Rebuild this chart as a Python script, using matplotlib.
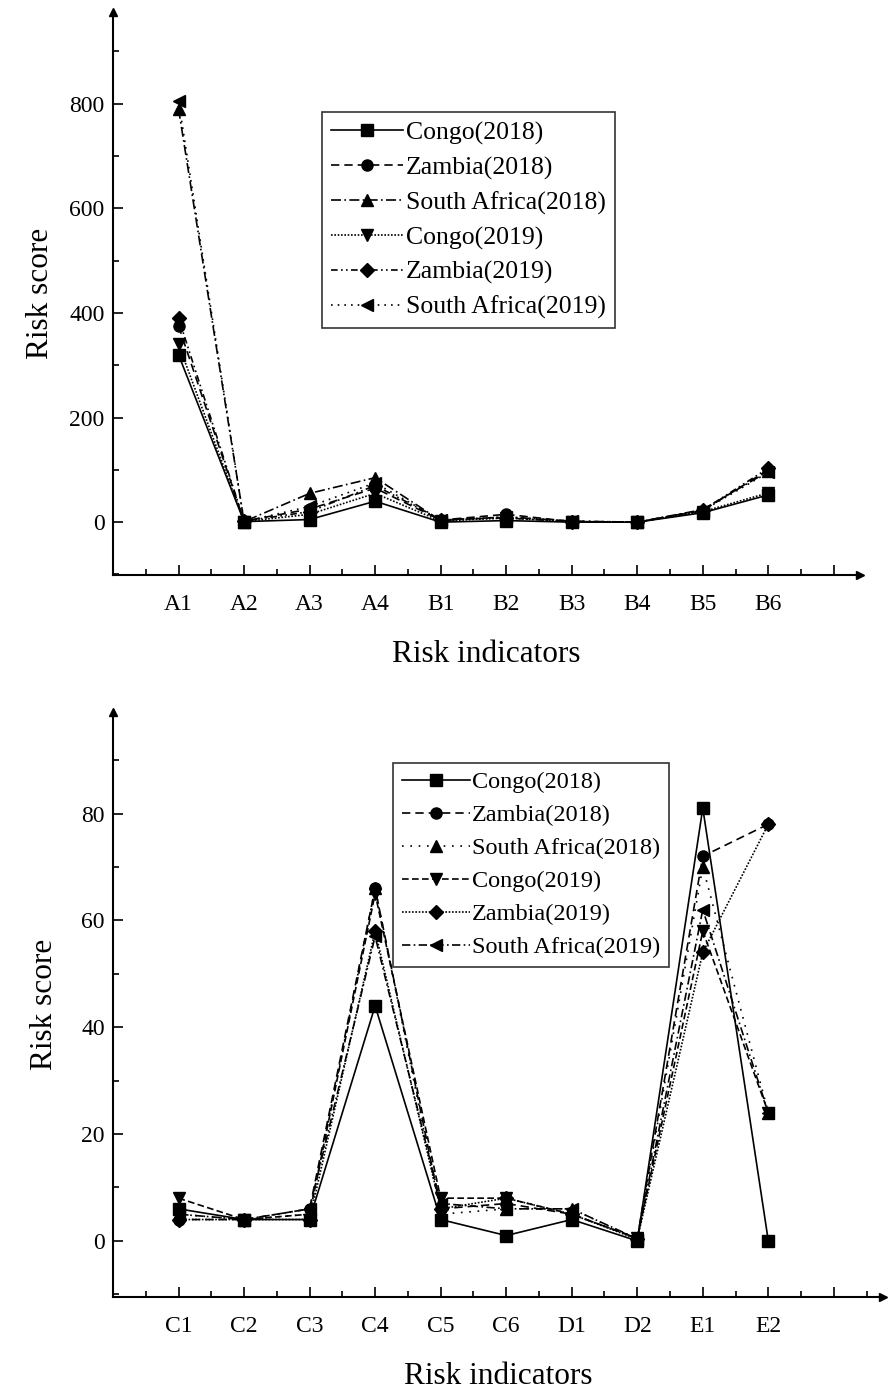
import numpy as np
import matplotlib
matplotlib.use("Agg")
import matplotlib.pyplot as plt
from matplotlib.ticker import MultipleLocator

plt.rcParams["font.family"] = ["Liberation Serif", "DejaVu Serif"]

# ---- data ----
series = ["Congo(2018)", "Zambia(2018)", "South Africa(2018)",
          "Congo(2019)", "Zambia(2019)", "South Africa(2019)"]

top_cats = ["A1", "A2", "A3", "A4", "B1", "B2", "B3", "B4", "B5", "B6"]
congo_2018_top = [320, 1, 5, 40, 0, 3, 0, 0, 18, 52]
zambia_2018_top = [375, 2, 25, 65, 4, 15, 1, 0, 22, 100]
safrica_2018_top = [790, 1, 55, 85, 3, 10, 2, 0, 24, 97]
congo_2019_top = [340, 1, 15, 55, 2, 8, 1, 0, 20, 56]
zambia_2019_top = [390, 2, 20, 70, 5, 8, 1, 0, 23, 103]
safrica_2019_top = [805, 1, 30, 75, 4, 10, 2, 0, 22, 95]

bot_cats = ["C1", "C2", "C3", "C4", "C5", "C6", "D1", "D2", "E1", "E2"]
congo_2018_bot = [6, 4, 4, 44, 4, 1, 4, 0, 81, 0]
zambia_2018_bot = [4, 4, 6, 66, 6, 7, 5, 0.5, 72, 78]
safrica_2018_bot = [5, 4, 5, 66, 5, 6, 6, 0.3, 70, 24]
congo_2019_bot = [8, 4, 5, 65, 8, 8, 5, 0.5, 58, 24]
zambia_2019_bot = [4, 4, 4, 58, 6, 8, 5, 0.3, 54, 78]
safrica_2019_bot = [5, 4, 6, 57, 7, 6, 6, 0.4, 62, 24]

markers = ["s", "o", "^", "v", "D", "<"]
top_styles = ["-", (0, (5, 3)), (0, (6, 2, 1, 2)), (0, (1, 1)),
              (0, (4, 2, 1, 2, 1, 2)), (0, (1, 3))]
bot_styles = ["-", (0, (5, 3)), (0, (1, 4)), (0, (4, 2)),
              (0, (1, 1)), (0, (5, 2, 1, 2))]


def draw(ax, cats, data, styles, ylim, minor, yticks, legend_pos, leg_fs,
         ylabelpad):
    x = np.arange(1, len(cats) + 1)
    for vals, name, m, ls in zip(data, series, markers, styles):
        ms = 7 if m == "D" else 8
        ax.plot(x, vals, color="black", linestyle=ls, linewidth=1.2,
                marker=m, markersize=ms, label=name)
    ax.set_xlim(0, ylim[2])
    ax.set_ylim(ylim[0], ylim[1])
    ax.set_xticks(list(x) + [11])
    ax.set_xticklabels(cats + [""])
    ax.xaxis.set_minor_locator(MultipleLocator(0.5))
    ax.set_yticks(yticks)
    ax.yaxis.set_minor_locator(MultipleLocator(minor))
    ax.tick_params(which="both", direction="in", labelsize=17, width=1.2)
    ax.tick_params(which="major", length=7)
    ax.tick_params(which="minor", length=4)
    ax.tick_params(axis="x", pad=14)
    ax.tick_params(axis="y", pad=6)
    for s in ["top", "right"]:
        ax.spines[s].set_visible(False)
    for s in ["left", "bottom"]:
        ax.spines[s].set_linewidth(1.5)
    # arrow heads at the ends of the axes
    ax.plot(1, 0, ">k", markersize=6, transform=ax.transAxes, clip_on=False)
    ax.plot(0, 1, "^k", markersize=6, transform=ax.transAxes, clip_on=False)
    ax.set_xlabel("Risk indicators", fontsize=22.5, labelpad=18)
    ax.set_ylabel("Risk score", fontsize=22.5, labelpad=ylabelpad)
    leg = ax.legend(loc="upper left", bbox_to_anchor=legend_pos,
                    fontsize=leg_fs, frameon=True, fancybox=False,
                    edgecolor="black", handlelength=2.8, handletextpad=0.1,
                    labelspacing=0.45, borderpad=0.35, borderaxespad=0)
    leg.get_frame().set_linewidth(1.2)


fig = plt.figure(figsize=(8.9, 13.91), dpi=100)
fig.patch.set_facecolor("white")

ax1 = fig.add_axes([113 / 890, 1 - 575 / 1391, 747 / 890, 563 / 1391])
draw(ax1, top_cats,
     [congo_2018_top, zambia_2018_top, safrica_2018_top,
      congo_2019_top, zambia_2019_top, safrica_2019_top],
     top_styles, (-101, 975, 11.4), 100, [0, 200, 400, 600, 800],
     (0.28, 0.822), 18.5, 10)

ax2 = fig.add_axes([113 / 890, 1 - 1297 / 1391, 770 / 890, 585 / 1391])
draw(ax2, bot_cats,
     [congo_2018_bot, zambia_2018_bot, safrica_2018_bot,
      congo_2019_bot, zambia_2019_bot, safrica_2019_bot],
     bot_styles, (-10.5, 99, 11.75), 10, [0, 20, 40, 60, 80],
     (0.364, 0.913), 17.5, 16)

fig.savefig("out.png", dpi=100, facecolor="white")
plt.close(fig)
